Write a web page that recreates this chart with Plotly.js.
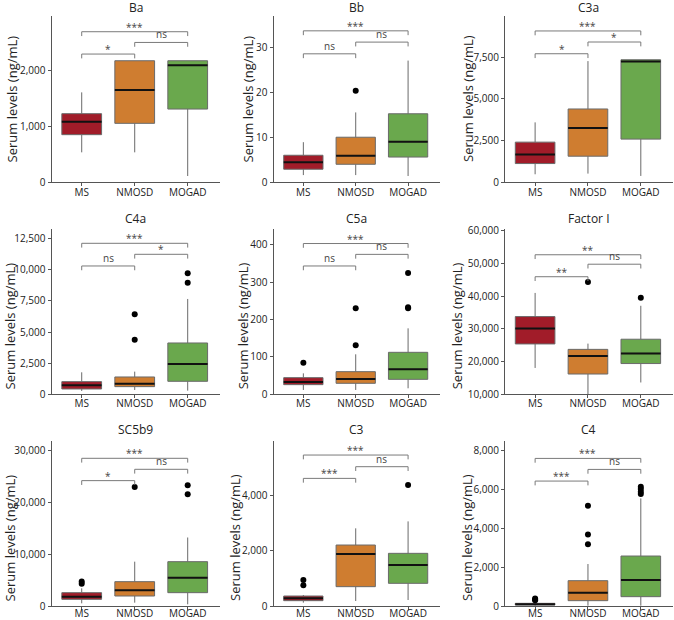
<!DOCTYPE html>
<html>
<head>
<meta charset="utf-8">
<script src="https://cdn.plot.ly/plotly-3.0.1.min.js"></script>
<style>html,body{margin:0;padding:0;background:#fff;}#chart{width:674px;height:620px;}</style>
</head>
<body>
<div id="chart"></div>
<script>
// ---------- DATA ----------
const groups = ['MS', 'NMOSD', 'MOGAD'];
const panelTitles = ['Ba', 'Bb', 'C3a', 'C4a', 'C5a', 'Factor I', 'SC5b9', 'C3', 'C4'];
const yTitle = 'Serum levels (ng/mL)';

// per panel: [MS, NMOSD, MOGAD]
const lowerWhisker = [
  [537, 537, 113], [1.6, 1.6, 1.4], [481, 521, 381],
  [268, 348, 294], [11.6, 11.6, 16], [18066, 10000, 13619],
  [514, 642, 321], [120, 180, 216], [17, 17, 17]
];
const q1Values = [
  [854, 1057, 1313], [2.9, 4.0, 5.6], [1123, 1564, 2587],
  [428, 616, 1044], [25.8, 29.4, 40], [25409, 16205, 19411],
  [1285, 1927, 2570], [192, 697, 817], [51, 274, 480]
];
const medianValues = [
  [1087, 1654, 2096], [4.45, 5.9, 9.0], [1664, 3248, 7239],
  [723, 857, 2436], [33, 41, 66.8], [30165, 21686, 22513],
  [1799, 3019, 5460], [276, 1874, 1477], [86, 685, 1336]
];
const q3Values = [
  [1230, 2179, 2179], [6.0, 10.0, 15.2], [2406, 4391, 7339],
  [1017, 1392, 4122], [44.5, 60.5, 112.2], [33785, 23754, 26856],
  [2570, 4689, 8544], [360, 2198, 1898], [137, 1302, 2570]
];
const upperWhisker = [
  [1612, 2179, 2179], [8.9, 15.5, 27.0], [3590, 7259, 7339],
  [1767, 1820, 7655], [56, 106.9, 176.3], [41024, 25512, 37094],
  [3405, 8544, 13200], [396, 2799, 3050], [200, 2158, 5533]
];
const outlierValues = [
  [[], [], []],
  [[], [20.3], []],
  [[], [], []],
  [[], [6424, 4390], [9716, 8967]],
  [[84.6], [229.7, 130.9], [324, 232.4, 229.7]],
  [[], [44333], [39576]],
  [[4700, 4300], [22933], [23255, 21520]],
  [[940, 750], [], [4360]],
  [[290, 340, 390], [5156, 3683, 3169], [6133, 6013, 5876, 5756]]
];

// significance brackets: top = MS vs MOGAD, mid = NMOSD vs MOGAD, low = MS vs NMOSD
const bracketTop = [2699, 33.6, 9064, 12126, 403, 52710, 28458, 5441, 7589];
const bracketMid = [2507, 31.1, 8402, 11242, 374, 49814, 26338, 5021, 7023];
const bracketLow = [2299, 28.5, 7700, 10305, 343, 45988, 24154, 4600, 6424];
const labelTop = ['***', '***', '***', '***', '***', '**', '***', '***', '***'];
const labelMid = ['ns', 'ns', '*', '*', 'ns', 'ns', 'ns', 'ns', 'ns'];
const labelLow = ['*', 'ns', '*', 'ns', 'ns', '**', '*', '***', '***'];

// y axis ranges and tick spacing
const yRanges = [
  [0, 2990], [0, 37], [0, 9990], [0, 13250], [0, 441],
  [10000, 60500], [0, 31850], [0, 5958], [0, 8500]
];
const yTickStep = [1000, 10, 2500, 2500, 100, 10000, 10000, 2000, 2000];

// ---------- STYLE / LAYOUT ----------
const W = 674, H = 620;
const groupColors = ['#A11C29', '#CF7D30', '#6AA84D'];
const colX = [[51.5, 219.5], [273.5, 439.5], [505, 672.5]];
const rowY = [[15.5, 182.3], [229.3, 394.3], [440.7, 606]];
const rowLabelStandoff = [-2, -3, -5];
const titleRowY = [7.5, 218.5, 429.5];
const yTitleX = [11.5, 247.5, 468, 9.5, 243.3, 457.3, 9.5, 235, 467];
const yTitleRowY = [99, 326, 538];
const FONT = 'Open Sans, Noto Sans, sans-serif';
const boxWidth = 0.75;

const traces = [];
const layout = {
  width: W, height: H,
  margin: {l: 0, r: 0, t: 0, b: 0},
  paper_bgcolor: '#fff', plot_bgcolor: 'rgba(0,0,0,0)',
  showlegend: false, hovermode: false,
  font: {family: FONT, color: '#333', size: 10},
  annotations: []
};

panelTitles.forEach((title, p) => {
  const r = Math.floor(p / 3), c = p % 3;
  const xa = p === 0 ? 'x' : 'x' + (p + 1);
  const ya = p === 0 ? 'y' : 'y' + (p + 1);
  const xName = p === 0 ? 'xaxis' : 'xaxis' + (p + 1);
  const yName = p === 0 ? 'yaxis' : 'yaxis' + (p + 1);
  const yr = yRanges[p];
  const ticks = [];
  for (let v = yr[0]; v <= yr[1] + 1e-9; v += yTickStep[p]) ticks.push(v);

  layout[xName] = {
    domain: [colX[c][0] / W, colX[c][1] / W],
    anchor: ya, range: [-0.57, 2.6],
    tickvals: [0, 1, 2], ticktext: groups,
    showline: true, linecolor: '#555', linewidth: 1,
    ticks: 'outside', ticklen: 3, tickcolor: '#555',
    ticklabelstandoff: rowLabelStandoff[r],
    showgrid: false, zeroline: false,
    tickfont: {family: FONT, size: 10, color: '#222'}, fixedrange: true
  };
  layout[yName] = {
    domain: [1 - rowY[r][1] / H, 1 - rowY[r][0] / H],
    anchor: xa, range: yr,
    tickvals: ticks, tickformat: ',d',
    showline: true, linecolor: '#555', linewidth: 1,
    ticks: 'outside', ticklen: 3, tickcolor: '#555',
    showgrid: false, zeroline: false,
    tickfont: {family: FONT, size: 10, color: '#222'}, fixedrange: true
  };

  groups.forEach((g, i) => {
    traces.push({
      type: 'box', xaxis: xa, yaxis: ya,
      x: [i],
      q1: [q1Values[p][i]], median: [medianValues[p][i]], q3: [q3Values[p][i]],
      lowerfence: [lowerWhisker[p][i]], upperfence: [upperWhisker[p][i]],
      width: boxWidth, whiskerwidth: 0,
      fillcolor: groupColors[i],
      line: {color: '#6a6a6a', width: 1},
      boxpoints: false, hoverinfo: 'skip'
    });
    // median line, drawn darker on top
    traces.push({
      type: 'scatter', mode: 'lines', xaxis: xa, yaxis: ya,
      x: [i - boxWidth / 2, i + boxWidth / 2],
      y: [medianValues[p][i], medianValues[p][i]],
      line: {color: '#111', width: 2}, hoverinfo: 'skip'
    });
    if (outlierValues[p][i].length) {
      traces.push({
        type: 'scatter', mode: 'markers', xaxis: xa, yaxis: ya,
        x: outlierValues[p][i].map(() => i),
        y: outlierValues[p][i],
        marker: {color: '#000', size: 6}, hoverinfo: 'skip'
      });
    }
  });

  // brackets
  const drop = (yr[1] - yr[0]) * 0.026;
  const brackets = [
    [0, 2, bracketTop[p], labelTop[p]],
    [1, 2, bracketMid[p], labelMid[p]],
    [0, 1, bracketLow[p], labelLow[p]]
  ];
  brackets.forEach(([a, b, h, lab]) => {
    traces.push({
      type: 'scatter', mode: 'lines', xaxis: xa, yaxis: ya,
      x: [a, a, b, b], y: [h - drop, h, h, h - drop],
      line: {color: '#7a7a7a', width: 1}, hoverinfo: 'skip'
    });
    layout.annotations.push({
      xref: xa, yref: ya, x: (a + b) / 2, y: h,
      text: lab, showarrow: false, xanchor: 'center', yanchor: 'bottom',
      yshift: lab.indexOf('*') >= 0 ? -4 : -1,
      font: {family: FONT, size: 10, color: '#444'}
    });
  });

  // panel title
  layout.annotations.push({
    xref: 'paper', yref: 'paper',
    x: (colX[c][0] + colX[c][1]) / 2 / W, y: 1 - titleRowY[r] / H,
    text: title, showarrow: false, xanchor: 'center', yanchor: 'middle',
    font: {family: FONT, size: 12, color: '#222'}
  });
  // y axis title
  layout.annotations.push({
    xref: 'paper', yref: 'paper',
    x: yTitleX[p] / W, y: 1 - yTitleRowY[r] / H,
    text: yTitle, textangle: -90, showarrow: false,
    xanchor: 'center', yanchor: 'middle',
    font: {family: FONT, size: 13, color: '#222'}
  });
});

Plotly.newPlot('chart', traces, layout, {displayModeBar: false, staticPlot: true});
</script>
</body>
</html>
